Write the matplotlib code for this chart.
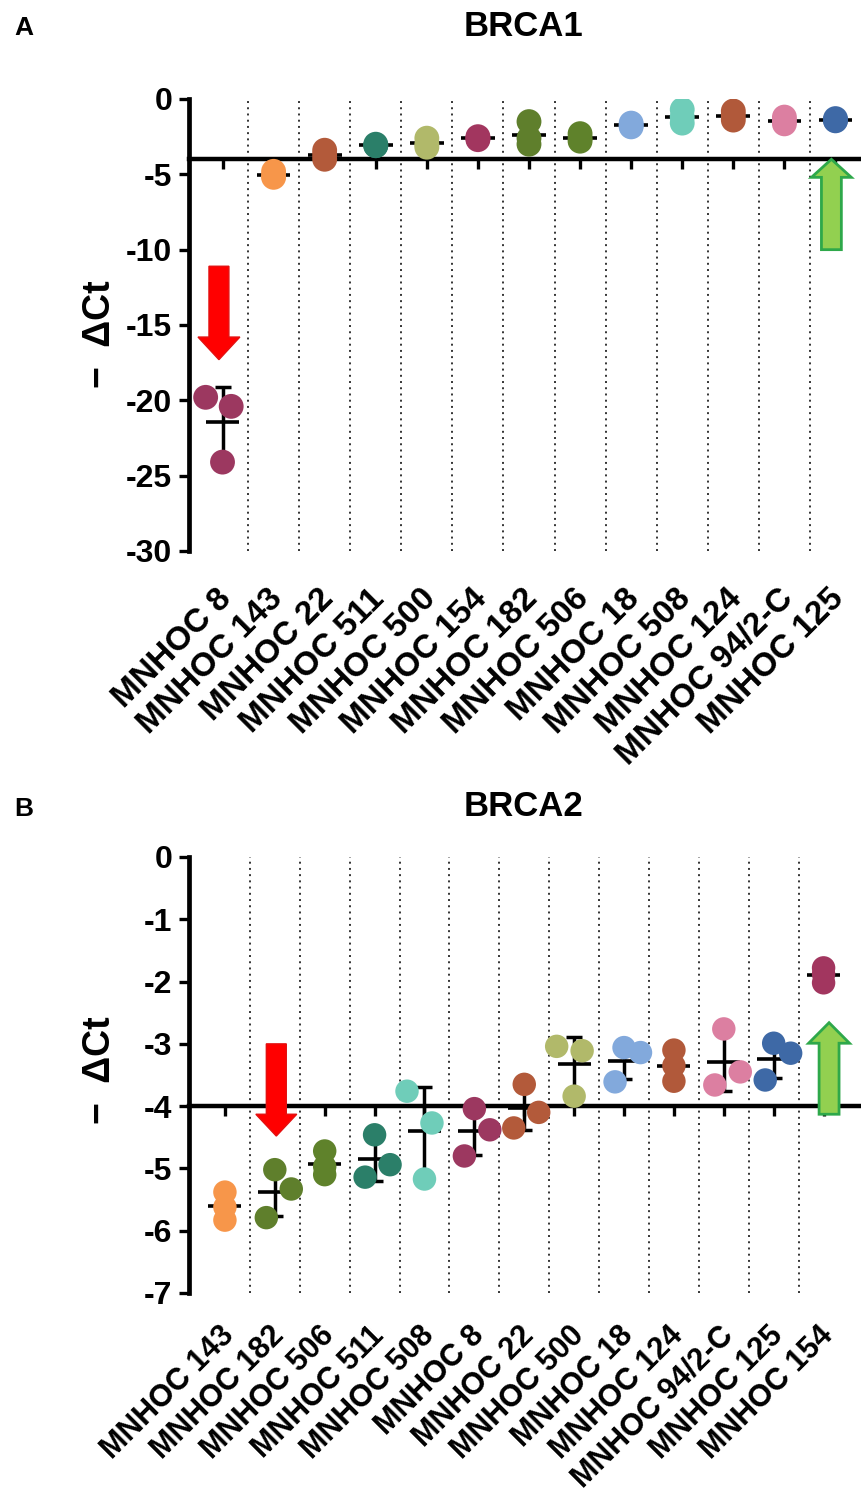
import matplotlib
matplotlib.use('Agg')
import matplotlib.pyplot as plt
from matplotlib.patches import FancyArrow
from matplotlib.transforms import blended_transform_factory
import numpy as np

plt.rcParams['font.family'] = ['Liberation Sans', 'DejaVu Sans']
plt.rcParams['font.weight'] = 'bold'

# panel A - BRCA1
names_a = ['MNHOC 8', 'MNHOC 143', 'MNHOC 22', 'MNHOC 511', 'MNHOC 500', 'MNHOC 154',
           'MNHOC 182', 'MNHOC 506', 'MNHOC 18', 'MNHOC 508', 'MNHOC 124', 'MNHOC 94/2-C',
           'MNHOC 125']
vals_a = [[-19.8, -20.4, -24.1],
          [-4.8, -5.1, -5.2],
          [-3.4, -3.7, -4.0],
          [-3.0, -3.1, -3.1],
          [-2.6, -3.0, -3.2],
          [-2.5, -2.6, -2.7],
          [-1.5, -2.6, -3.0],
          [-2.3, -2.6, -2.8],
          [-1.6, -1.75, -1.85],
          [-0.7, -1.2, -1.6],
          [-0.8, -1.1, -1.4],
          [-1.2, -1.45, -1.65],
          [-1.3, -1.4, -1.45]]
jitter_a = [[-0.33, 0.17, 0]] + [[0, 0, 0]] * 12

# panel B - BRCA2
names_b = ['MNHOC 143', 'MNHOC 182', 'MNHOC 506', 'MNHOC 511', 'MNHOC 508', 'MNHOC 8',
           'MNHOC 22', 'MNHOC 500', 'MNHOC 18', 'MNHOC 124', 'MNHOC 94/2-C', 'MNHOC 125',
           'MNHOC 154']
vals_b = [[-5.38, -5.62, -5.83],
          [-5.02, -5.33, -5.79],
          [-4.72, -4.97, -5.10],
          [-4.46, -4.94, -5.14],
          [-3.76, -4.27, -5.17],
          [-4.04, -4.38, -4.80],
          [-3.65, -4.10, -4.35],
          [-3.04, -3.11, -3.84],
          [-3.06, -3.14, -3.61],
          [-3.10, -3.35, -3.60],
          [-2.76, -3.45, -3.66],
          [-2.99, -3.15, -3.58],
          [-1.78, -1.88, -2.02]]
jitter_b = [[0, 0, 0], [0, 0.33, -0.17], [0, 0, 0], [0, 0.31, -0.19],
            [-0.35, 0.15, 0], [0, 0.31, -0.2], [0, 0.29, -0.21], [-0.35, 0.16, 0],
            [0, 0.33, -0.18], [0, 0, 0], [0, 0.33, -0.18], [0, 0.34, -0.17], [0, 0, 0]]

colors = {'MNHOC 8': '#9c3860', 'MNHOC 143': '#f7964a', 'MNHOC 22': '#b35a3a',
          'MNHOC 511': '#2b7f69', 'MNHOC 500': '#b1b96a', 'MNHOC 154': '#a2365f',
          'MNHOC 182': '#5f7f2c', 'MNHOC 506': '#5f822b', 'MNHOC 18': '#82a9dc',
          'MNHOC 508': '#6fcdb9', 'MNHOC 124': '#b1593a', 'MNHOC 94/2-C': '#dc7fa1',
          'MNHOC 125': '#3e69a6'}

W, H = 861, 1497
fig = plt.figure(figsize=(W / 100, H / 100), dpi=100)


def panel(rect, names, vals, jitter, ylim, yticks, xlim, msize, xfs, xoff, ylab_y):
    ax = fig.add_axes(rect)
    n = len(names)
    ax.set_xlim(*xlim)
    ax.set_ylim(*ylim)
    ax.vlines(np.arange(0.5, n - 1), ylim[0], ylim[1], colors='#333333',
              linestyles=(0, (1, 2.2)), linewidth=1.4, zorder=1)
    for i, (nm, v, j) in enumerate(zip(names, vals, jitter)):
        v = np.array(v)
        m = v.mean()
        sd = v.std(ddof=1)
        ax.errorbar(i, m, yerr=sd, fmt='none', ecolor='black', elinewidth=2.5,
                    capsize=5.5, capthick=2.5, zorder=3)
        ax.hlines(m, i - 0.33, i + 0.33, colors='black', linewidth=2.6, zorder=3)
        ax.scatter(i + np.array(j), v, s=msize, color=colors[nm], edgecolors='none', zorder=4)
    for s in ['top', 'right']:
        ax.spines[s].set_visible(False)
    ax.spines['left'].set_linewidth(3.4)
    ax.spines['bottom'].set_linewidth(3.2)
    ax.spines['bottom'].set_position(('data', -4))
    ax.set_yticks(yticks)
    ax.set_yticklabels([str(t) for t in yticks])
    ax.set_xticks(range(n))
    ax.tick_params(axis='y', length=7, width=2.4, labelsize=23, pad=5)
    ax.tick_params(axis='x', length=7, width=2.4, labelbottom=False)
    for lab in ax.get_yticklabels():
        lab.set_fontweight('bold')
    tr = blended_transform_factory(ax.transData, ax.transAxes)
    for i, nm in enumerate(names):
        ax.annotate(nm, xy=(i, 0), xycoords=tr, xytext=xoff, textcoords='offset points',
                    rotation=45, ha='right', va='top', rotation_mode='anchor',
                    fontsize=xfs, fontweight='bold')
    ax.text(-0.133, ylab_y, '\u2212  \u0394Ct', transform=ax.transAxes, rotation=90,
            ha='center', va='center', fontsize=27, fontweight='bold')
    return ax


left = 189 / W
width = 671 / W
ax_a = panel([left, 1 - 551 / H, width, 452 / H], names_a, vals_a, jitter_a,
             (-30, 0), list(range(0, -31, -5)), (-0.656, 12.48), 320,
             24, (-5, -23), 0.48)
ax_b = panel([left, 1 - 1293 / H, width, 436 / H], names_b, vals_b, jitter_b,
             (-7, 0), list(range(0, -8, -1)), (-0.72, 12.73), 285,
             22, (-4, -20), 0.51)

# arrows
ax_a.add_patch(FancyArrow(-0.07, -11.1, 0, -6.2, width=0.39, head_width=0.82,
                          head_length=1.5, length_includes_head=True,
                          facecolor='#ff0000', edgecolor='#e31010', linewidth=1, zorder=5))
ax_a.add_patch(FancyArrow(11.92, -10.0, 0, 6.0, width=0.39, head_width=0.78,
                          head_length=1.2, length_includes_head=True,
                          facecolor='#92d050', edgecolor='#2ea84a', linewidth=2, zorder=5))
ax_b.add_patch(FancyArrow(1.03, -3.0, 0, -1.48, width=0.40, head_width=0.82,
                          head_length=0.35, length_includes_head=True,
                          facecolor='#ff0000', edgecolor='#e31010', linewidth=1, zorder=5))
ax_b.add_patch(FancyArrow(12.11, -4.13, 0, 1.47, width=0.40, head_width=0.82,
                          head_length=0.33, length_includes_head=True,
                          facecolor='#92d050', edgecolor='#2ea84a', linewidth=2, zorder=5))

fig.text(523 / W, 1 - 27 / H, 'BRCA1', ha='center', va='center', fontsize=25, fontweight='bold')
fig.text(524 / W, 1 - 807 / H, 'BRCA2', ha='center', va='center', fontsize=25, fontweight='bold')
fig.text(14 / W, 1 - 28 / H, 'A', ha='left', va='center', fontsize=19, fontweight='bold')
fig.text(14 / W, 1 - 809 / H, 'B', ha='left', va='center', fontsize=19, fontweight='bold')

fig.savefig('out.png', dpi=100)
